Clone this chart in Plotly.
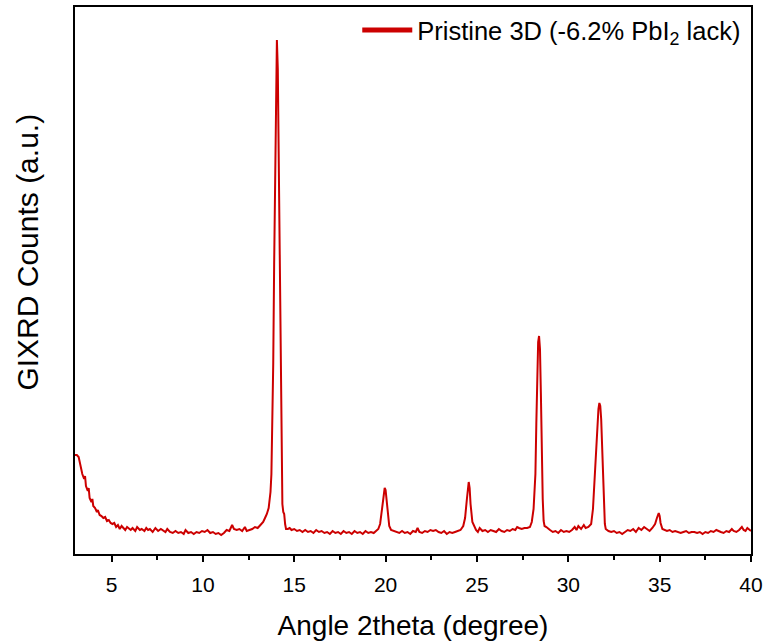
import plotly.graph_objects as go

# 2theta (degree) and GIXRD counts (a.u.)
angle = [
    3.00, 3.10, 3.20, 3.30, 3.40, 3.50, 3.55, 3.60, 3.70, 3.75, 3.80, 3.90, 3.95, 4.00, 4.10,
    4.20, 4.25, 4.35, 4.45, 4.55, 4.65, 4.75, 4.85, 4.95, 5.05, 5.15, 5.25, 5.35, 5.45, 5.55,
    5.65, 5.75, 5.85, 5.95, 6.05, 6.15, 6.30, 6.40, 6.55, 6.65, 6.80, 6.90, 7.00, 7.10, 7.25,
    7.40, 7.55, 7.70, 7.85, 7.95, 8.05, 8.20, 8.35, 8.50, 8.65, 8.80, 8.95, 9.05, 9.20, 9.35,
    9.50, 9.65, 9.80, 9.95, 10.10, 10.25, 10.40, 10.55, 10.70, 10.85, 11.00, 11.15, 11.30, 11.45, 11.60,
    11.70, 11.85, 12.00, 12.15, 12.30, 12.40, 12.55, 12.70, 12.85, 13.00, 13.15, 13.30, 13.40, 13.50, 13.60,
    13.70, 13.75, 13.80, 13.85, 13.90, 13.95, 14.00, 14.05, 14.10, 14.15, 14.20, 14.25, 14.30, 14.35, 14.40,
    14.45, 14.50, 14.55, 14.65, 14.75, 14.85, 15.00, 15.15, 15.30, 15.45, 15.60, 15.75, 15.90, 16.05, 16.20,
    16.35, 16.50, 16.65, 16.80, 16.95, 17.10, 17.25, 17.40, 17.55, 17.70, 17.85, 18.00, 18.15, 18.30, 18.45,
    18.60, 18.75, 18.90, 19.05, 19.20, 19.35, 19.50, 19.60, 19.70, 19.80, 19.85, 19.90, 19.95, 20.00, 20.05,
    20.10, 20.20, 20.30, 20.45, 20.60, 20.75, 20.90, 21.05, 21.20, 21.35, 21.50, 21.65, 21.75, 21.85, 22.00,
    22.15, 22.30, 22.45, 22.60, 22.75, 22.90, 23.05, 23.20, 23.35, 23.50, 23.65, 23.80, 23.95, 24.10, 24.25,
    24.35, 24.45, 24.50, 24.55, 24.60, 24.65, 24.75, 24.85, 24.95, 25.05, 25.15, 25.30, 25.45, 25.60, 25.75,
    25.90, 26.05, 26.20, 26.35, 26.50, 26.65, 26.80, 26.95, 27.10, 27.20, 27.30, 27.45, 27.60, 27.75, 27.90,
    28.00, 28.10, 28.20, 28.25, 28.30, 28.35, 28.40, 28.45, 28.50, 28.55, 28.60, 28.65, 28.70, 28.80, 28.90,
    29.00, 29.15, 29.30, 29.45, 29.60, 29.75, 29.90, 30.05, 30.20, 30.35, 30.45, 30.55, 30.70, 30.85, 30.95,
    31.10, 31.25, 31.35, 31.45, 31.55, 31.65, 31.70, 31.75, 31.80, 31.85, 31.90, 31.95, 32.00, 32.05, 32.10,
    32.20, 32.35, 32.50, 32.65, 32.80, 32.95, 33.10, 33.25, 33.40, 33.55, 33.70, 33.85, 34.00, 34.15, 34.30,
    34.45, 34.60, 34.75, 34.85, 34.90, 34.95, 35.00, 35.05, 35.15, 35.25, 35.40, 35.55, 35.70, 35.85, 36.00,
    36.15, 36.30, 36.45, 36.60, 36.75, 36.90, 37.05, 37.20, 37.35, 37.50, 37.65, 37.80, 37.95, 38.10, 38.20,
    38.35, 38.50, 38.65, 38.80, 38.95, 39.05, 39.20, 39.35, 39.50, 39.60, 39.70, 39.80, 39.90, 40.00,
]
counts = [
    99, 99, 97, 88, 80, 75, 78, 68, 63, 66, 56, 52, 55, 48, 46,
    42, 44, 39, 38, 36, 37, 33, 34, 31, 30, 31, 27, 29, 25, 28,
    26, 24, 27, 25, 24, 26, 23, 27, 24, 25, 23, 26, 24, 25, 22,
    26, 23, 25, 23, 22, 25, 22, 21, 23, 21, 22, 20, 24, 21, 22,
    20, 22, 21, 23, 22, 24, 21, 22, 20, 21, 19, 21, 24, 23, 29,
    25, 24, 25, 23, 27, 23, 24, 25, 27, 26, 29, 32, 36, 40, 46,
    62, 80, 120, 190, 290, 390, 475, 514, 485, 395, 285, 175, 95, 50, 42,
    40, 30, 25, 25, 26, 24, 25, 23, 24, 22, 24, 22, 23, 21, 24,
    22, 23, 21, 22, 20, 23, 21, 22, 20, 23, 21, 22, 20, 23, 21,
    22, 20, 23, 21, 22, 21, 23, 25, 30, 45, 56, 63, 66, 64, 55,
    40, 28, 24, 23, 22, 21, 23, 21, 22, 20, 23, 22, 26, 22, 21,
    23, 22, 24, 23, 24, 22, 21, 23, 20, 22, 21, 22, 23, 24, 28,
    36, 55, 68, 72, 66, 50, 32, 27, 24, 22, 26, 23, 24, 22, 24,
    23, 22, 25, 23, 22, 24, 23, 25, 24, 27, 26, 25, 26, 26, 27,
    32, 45, 80, 130, 185, 212, 218, 205, 160, 100, 55, 33, 28, 27, 25,
    24, 22, 23, 21, 24, 22, 23, 22, 24, 27, 24, 28, 25, 29, 26,
    27, 30, 45, 80, 120, 145, 151, 148, 135, 105, 70, 42, 30, 25, 24,
    23, 22, 23, 21, 22, 20, 22, 24, 23, 25, 22, 26, 24, 27, 25,
    23, 26, 30, 36, 40, 41, 38, 31, 25, 24, 23, 24, 22, 23, 22,
    21, 22, 23, 21, 22, 22, 21, 22, 20, 22, 21, 23, 22, 24, 23,
    22, 21, 23, 22, 25, 23, 22, 24, 27, 24, 23, 26, 24, 23,
]

series_name = "Pristine 3D (-6.2% PbI<sub>2</sub> lack)"
x_title = "Angle 2theta (degree)"
y_title = "GIXRD Counts (a.u.)"

red = "#CC0000"
font_family = "Arial, 'Liberation Sans', sans-serif"

fig = go.Figure()
fig.add_trace(go.Scatter(
    x=angle, y=counts, mode="lines",
    line=dict(color=red, width=2),
    showlegend=False, hoverinfo="x+y",
))
# legend entry with a thicker sample line
fig.add_trace(go.Scatter(
    x=[None], y=[None], mode="lines",
    line=dict(color=red, width=5),
    name=series_name, showlegend=True,
))

fig.update_layout(
    width=765, height=641,
    margin=dict(l=75, r=14, t=7, b=87, autoexpand=False),
    paper_bgcolor="white", plot_bgcolor="white",
    font=dict(family=font_family, color="black"),
    legend=dict(
        x=0.993, y=1, xanchor="right", yanchor="top",
        bgcolor="rgba(0,0,0,0)", borderwidth=0,
        font=dict(size=25.5, family=font_family),
        itemwidth=50,
    ),
    annotations=[dict(
        text=y_title, textangle=-90, showarrow=False,
        xref="paper", yref="paper", x=0, y=0.551,
        xanchor="center", yanchor="middle", xshift=-47,
        font=dict(size=30, family=font_family, color="black"),
    )],
)
fig.update_xaxes(
    range=[3, 40], tick0=0, dtick=5, automargin=False,
    showgrid=False, zeroline=False,
    showline=True, linecolor="black", linewidth=1.5, mirror=True,
    ticks="outside", ticklen=6, tickwidth=1.5, tickcolor="black",
    ticklabelstandoff=5,
    tickfont=dict(size=21),
    minor=dict(dtick=2.5, tick0=0, ticks="outside", ticklen=4, tickwidth=1.5, tickcolor="black"),
    title=dict(text=x_title, font=dict(size=28), standoff=22),
)
fig.update_yaxes(
    range=[0, 547], automargin=False,
    showgrid=False, zeroline=False, showticklabels=False, ticks="",
    showline=True, linecolor="black", linewidth=1.5, mirror=True,
)

fig.write_html("out.html")
